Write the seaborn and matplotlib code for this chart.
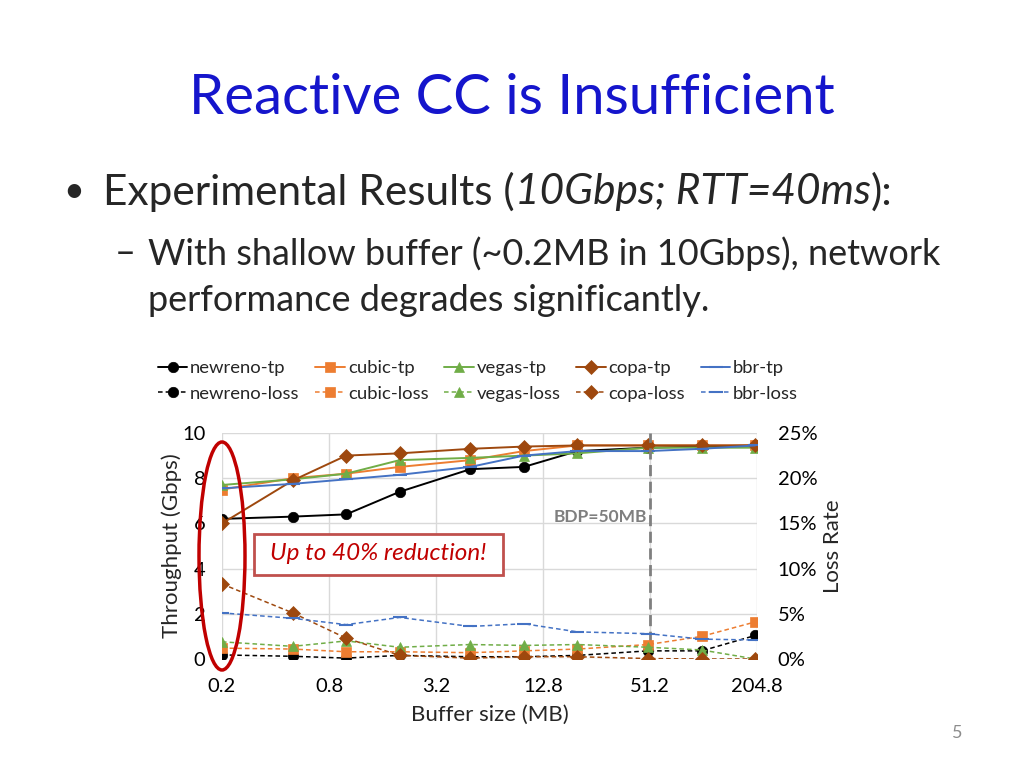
import seaborn as sns
import matplotlib.pyplot as plt
from matplotlib.patches import Ellipse, Rectangle
from matplotlib.ticker import FixedLocator, FixedFormatter, NullLocator

buffer_mb = [0.2, 0.5, 1, 2, 5, 10, 20, 50, 100, 200]
tick_vals = [0.2, 0.8, 3.2, 12.8, 51.2, 204.8]
tick_labels = ["0.2", "0.8", "3.2", "12.8", "51.2", "204.8"]

# throughput (Gbps)
newreno_tp = [6.2, 6.3, 6.4, 7.4, 8.4, 8.5, 9.2, 9.35, 9.4, 9.45]
cubic_tp = [7.5, 8.0, 8.2, 8.5, 8.8, 9.2, 9.45, 9.45, 9.45, 9.45]
vegas_tp = [7.7, 7.95, 8.2, 8.8, 8.9, 9.0, 9.1, 9.35, 9.35, 9.35]
copa_tp = [6.0, 7.9, 9.0, 9.1, 9.3, 9.4, 9.45, 9.45, 9.45, 9.45]
bbr_tp = [7.55, 7.75, 7.95, 8.15, 8.5, 9.0, 9.2, 9.2, 9.3, 9.45]

# loss rate (%)
newreno_loss = [0.45, 0.3, 0.1, 0.4, 0.25, 0.25, 0.4, 0.9, 0.9, 2.6]
cubic_loss = [1.2, 1.1, 0.8, 0.8, 0.7, 0.9, 1.1, 1.6, 2.5, 4.1]
vegas_loss = [1.9, 1.4, 2.0, 1.3, 1.6, 1.5, 1.6, 1.3, 1.0, 0.0]
copa_loss = [8.3, 5.1, 2.3, 0.4, 0.1, 0.25, 0.25, 0.05, 0.0, 0.0]
bbr_loss = [5.1, 4.5, 3.8, 4.6, 3.6, 3.9, 3.0, 2.8, 2.2, 2.1]

names = ["newreno", "cubic", "vegas", "copa", "bbr"]
tp = [newreno_tp, cubic_tp, vegas_tp, copa_tp, bbr_tp]
loss = [newreno_loss, cubic_loss, vegas_loss, copa_loss, bbr_loss]
colors = ["#000000", "#ED7D31", "#70AD47", "#9E480E", "#4472C4"]
markers = ["o", "s", "^", "D", "_"]

sns.set_theme(style="whitegrid")
plt.rcParams['font.family'] = ['Lato', 'DejaVu Sans']

W, H = 1024, 768
fig = plt.figure(figsize=(10.24, 7.68), dpi=100)


def fx(x):
    return x / W


def fy(y):
    return 1 - y / H


ax = fig.add_axes([fx(222), fy(659), fx(757) - fx(222), fy(433) - fy(659)])
ax2 = ax.twinx()

handles = []
for n, t, l, c, m in zip(names, tp, loss, colors, markers):
    ms = 7.5 if m != "_" else 10
    sns.lineplot(x=buffer_mb, y=t, ax=ax, color=c, marker=m, markersize=ms,
                 markeredgecolor=c, markeredgewidth=1.5 if m == "_" else 0.5,
                 linewidth=1.4, label=f"{n}-tp")
    sns.lineplot(x=buffer_mb, y=l, ax=ax2, color=c, marker=m, markersize=ms,
                 markeredgecolor=c, markeredgewidth=1.5 if m == "_" else 0.5,
                 linewidth=1.1, linestyle=(0, (3, 2)), label=f"{n}-loss")
    handles.append(ax.get_lines()[-1])
    handles.append(ax2.get_lines()[-1])

for a in (ax, ax2):
    if a.get_legend():
        a.get_legend().remove()

ax.set_xscale("log", base=2)
ax.set_xlim(0.2, 204.8)
ax.set_ylim(0, 10)
ax2.set_ylim(0, 25)
ax.xaxis.set_major_locator(FixedLocator(tick_vals))
ax.xaxis.set_major_formatter(FixedFormatter(tick_labels))
ax.xaxis.set_minor_locator(NullLocator())
ax.set_yticks([0, 2, 4, 6, 8, 10])
ax2.set_yticks([0, 5, 10, 15, 20, 25])
ax2.set_yticklabels(["0%", "5%", "10%", "15%", "20%", "25%"])

ax.grid(True, color="#D9D9D9", linewidth=1)
ax2.grid(False)
for a in (ax, ax2):
    for s in a.spines.values():
        s.set_visible(False)
    a.set_facecolor("none")
ax.tick_params(axis="both", length=0, labelsize=14.5, colors="#000000")
ax.tick_params(axis="y", pad=12)
ax.tick_params(axis="x", pad=14)
ax2.tick_params(axis="y", length=0, labelsize=14.5, pad=15, colors="#000000")

ax.set_xlabel("Buffer size (MB)", fontsize=16, labelpad=7)
ax.set_ylabel("Throughput (Gbps)", fontsize=16, labelpad=0)
ax2.set_ylabel("Loss Rate", fontsize=16, labelpad=4)

# BDP marker
ax.axvline(51.2, color="#7F7F7F", linewidth=2, linestyle=(0, (4, 2)), zorder=5)
ax.text(49, 6.3, "BDP=50MB", ha="right", va="center", fontsize=12.5,
        fontweight="bold", color="#7F7F7F")

# legend
leg = fig.legend(handles=handles, loc="center", ncol=5,
                 bbox_to_anchor=(fx(478), fy(381)), frameon=False,
                 fontsize=13.3, handlelength=1.6, handletextpad=0.15,
                 columnspacing=0.85, labelspacing=0.5)
leg.set_zorder(10)

# annotations
fig.patches.append(Ellipse((fx(222), fy(556)), fx(46), 228 / H, fill=False,
                           edgecolor="#C00000", linewidth=2.5,
                           transform=fig.transFigure, zorder=20))
fig.patches.append(Rectangle((fx(254), fy(575)), fx(249), 41 / H, fill=True,
                             facecolor="white", edgecolor="#C0504D",
                             linewidth=2, transform=fig.transFigure, zorder=20))
fig.text(fx(378), fy(554), "Up to 40% reduction!", ha="center", va="center",
         fontsize=17.5, style="italic", color="#C00000", zorder=21)

# slide text
fig.text(fx(512), fy(98), "Reactive CC is Insufficient", ha="center",
         va="center", fontsize=40.5, color="#1515CC")
fig.text(fx(63), fy(192), "•", ha="left", va="center", fontsize=26)

r = fig.canvas.get_renderer()
x0 = fx(103)
for txt, st in [("Experimental Results (", "normal"),
                ("10Gbps; RTT=40ms", "italic"), ("):", "normal")]:
    t = fig.text(x0, fy(192), txt, ha="left", va="center", fontsize=30.5,
                 style=st)
    x0 += t.get_window_extent(renderer=r).width / W

fig.text(fx(115), fy(254), "–", ha="left", va="center", fontsize=26)
fig.text(fx(148), fy(254),
         "With shallow buffer (~0.2MB in 10Gbps), network",
         ha="left", va="center", fontsize=26)
fig.text(fx(148), fy(301), "performance degrades significantly.",
         ha="left", va="center", fontsize=26)

fig.text(fx(957), fy(733), "5", ha="center", va="center", fontsize=13,
         color="#8C8C8C")

fig.savefig("out.png", dpi=100)
